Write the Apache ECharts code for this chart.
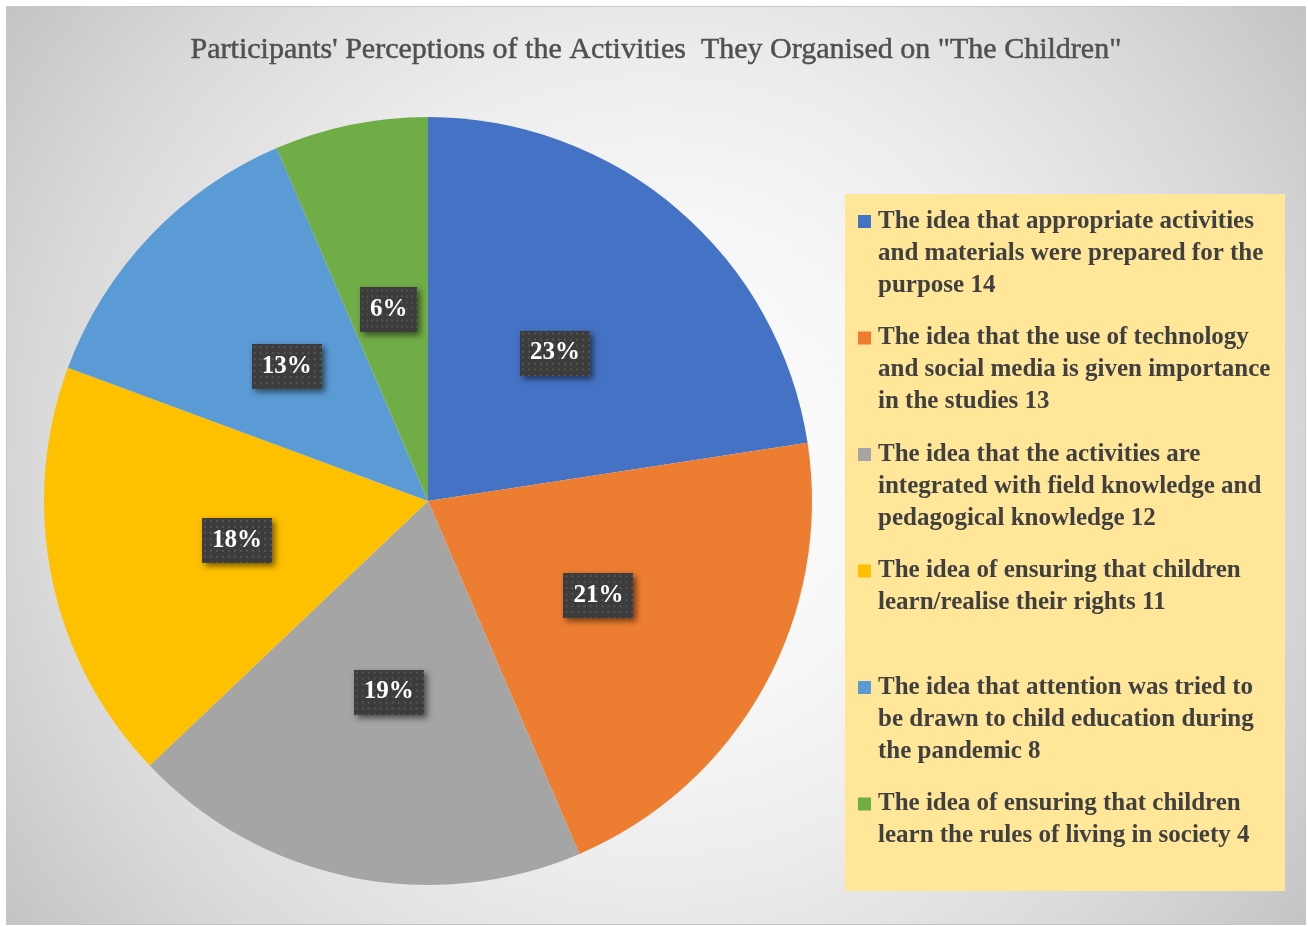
<!DOCTYPE html>
<html>
<head>
<meta charset="utf-8">
<script src="https://cdn.jsdelivr.net/npm/echarts@6/dist/echarts.min.js"></script>
<style>
  html, body { margin: 0; padding: 0; background: #ffffff; }
  #chart {
    position: absolute; left: 6px; top: 6px; width: 1300px; height: 919px;
    box-sizing: border-box; border: 1px solid #c8c8c8;
    background: radial-gradient(circle farthest-corner at 50% 50%, #ffffff 0%, #f7f7f7 30%, #ececec 52%, #d9d9d9 78%, #c4c4c4 100%);
  }
</style>
</head>
<body>
<div id="chart"></div>
<script>
// ---- data ----
const titleText = 'Participants\' Perceptions of the Activities  They Organised on "The Children"';
const categoryLines = [
  ['The idea that appropriate activities', 'and materials were prepared for the', 'purpose'],
  ['The idea that the use of technology', 'and social media is given importance', 'in the studies'],
  ['The idea that the activities are', 'integrated with field knowledge and', 'pedagogical knowledge'],
  ['The idea of ensuring that children', 'learn/realise their rights'],
  ['The idea that attention was tried to', 'be drawn to child education during', 'the pandemic'],
  ['The idea of ensuring that children', 'learn the rules of living in society']
];
const values = [14, 13, 12, 11, 8, 4];
const colors = ['#4472C4', '#ED7D31', '#A5A5A5', '#FFC000', '#5B9BD5', '#70AD47'];

const categories = categoryLines.map(l => l.join(' '));

// label background pattern
function makePattern(w, h) {
  const c = document.createElement('canvas');
  c.width = w; c.height = h;
  const ctx = c.getContext('2d');
  ctx.fillStyle = '#3c3c3c';
  ctx.fillRect(0, 0, w, h);
  ctx.fillStyle = '#555555';
  for (let y = 2; y < h; y += 6) {
    for (let x = 2; x < w; x += 6) ctx.fillRect(x, y, 2, 2);
  }
  return c;
}
const pattern = makePattern(70, 45);

const FS = 25;
const rich = {
  i: { padding: [0, 0, 0, 20], fontFamily: 'Liberation Serif', fontWeight: 'bold', fontSize: FS, color: '#404040', lineHeight: 32 },
  t: { padding: [0, 0, 0, 7], fontFamily: 'Liberation Serif', fontWeight: 'bold', fontSize: FS, color: '#404040', lineHeight: 32 }
};
colors.forEach((c, k) => {
  rich['m' + k] = { width: 13, height: 13, backgroundColor: c, lineHeight: 32 };
});

const chart = echarts.init(document.getElementById('chart'));
chart.setOption({
  animation: false,
  title: {
    text: titleText,
    left: 'center',
    top: 23,
    textStyle: { fontFamily: 'Liberation Serif', fontSize: 30, fontWeight: 'normal', color: '#505050',
      textBorderColor: '#505050', textBorderWidth: 0.5 }
  },
  graphic: [{
    type: 'rect', left: 838, top: 187, z: 0,
    shape: { width: 440, height: 697 },
    style: { fill: '#FFE699' }
  }],
  legend: {
    orient: 'vertical',
    left: 846,
    top: 202,
    padding: 0,
    itemGap: 27.5,
    itemWidth: 0,
    itemHeight: 0,
    icon: 'none',
    z: 5,
    data: categories,
    formatter: function (name) {
      const k = categories.indexOf(name);
      const lines = categoryLines[k].slice();
      lines[lines.length - 1] += ' ' + values[k];
      let s = '{m' + k + '|}{t|' + lines[0] + '}';
      for (let j = 1; j < lines.length; j++) s += '\n{i|' + lines[j] + '}';
      if (lines.length < 3) s += '\n{i| }';
      return s;
    },
    textStyle: { rich: rich }
  },
  series: [{
    type: 'pie',
    center: [421, 494],
    radius: [0, 384],
    startAngle: 90,
    clockwise: true,
    avoidLabelOverlap: false,
    label: {
      show: true,
      position: 'inside',
      formatter: function (p) { return Math.round(p.percent) + '%'; },
      fontFamily: 'Liberation Serif',
      fontWeight: 'bold',
      fontSize: 25,
      color: '#ffffff',
      backgroundColor: { image: pattern },
      padding: [14, 10, 6, 10],
      shadowColor: 'rgba(0,0,0,0.55)',
      shadowBlur: 6,
      shadowOffsetX: 3,
      shadowOffsetY: 3
    },
    labelLine: { show: false },
    emphasis: { disabled: true },
    data: categories.map((n, k) => ({ name: n, value: values[k], itemStyle: { color: colors[k] } }))
  }]
});
</script>
</body>
</html>
